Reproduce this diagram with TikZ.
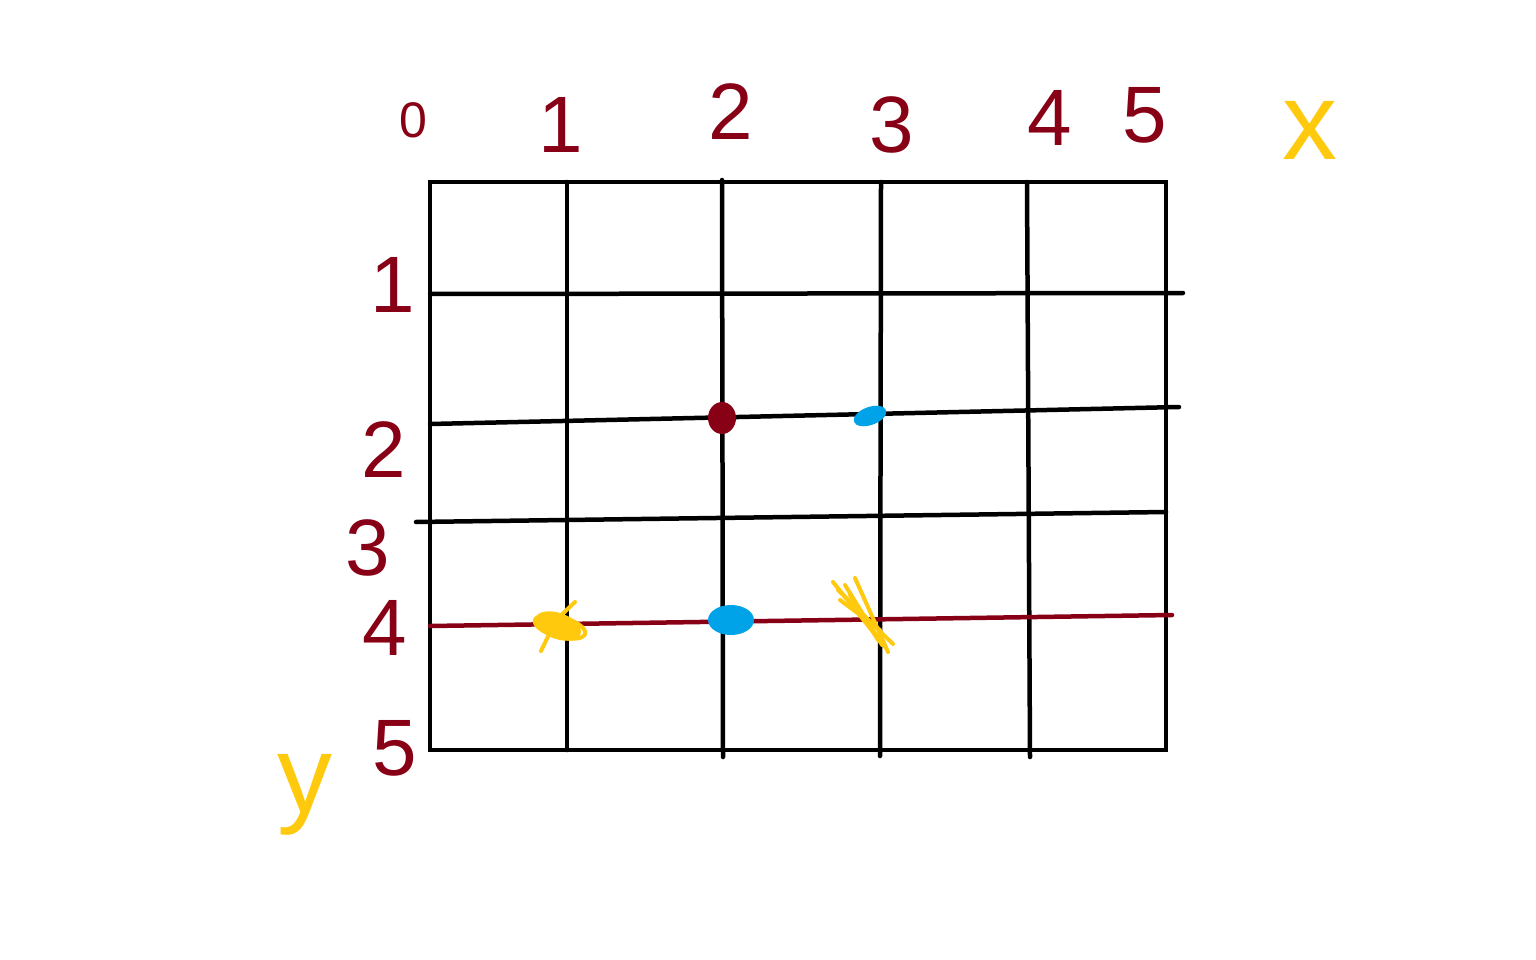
\documentclass[tikz,border=0pt]{standalone}
\usepackage{fontspec}
\setmainfont{Liberation Sans}
\definecolor{dred}{RGB}{136,0,21}
\definecolor{pblue}{RGB}{0,162,232}
\definecolor{pyellow}{RGB}{255,201,14}
\begin{document}
\begin{tikzpicture}[x=1pt,y=-1pt,
  gridline/.style={line width=4.5pt,black,line cap=round},
  redline/.style={line width=4.5pt,dred,line cap=round},
  numlab/.style={text=dred,inner sep=0pt,font=\fontsize{80}{80}\selectfont},
  smalllab/.style={text=dred,inner sep=0pt,font=\fontsize{50}{50}\selectfont},
  axislab/.style={text=pyellow,inner sep=0pt,font=\fontsize{110}{110}\selectfont},
  scribble/.style={pyellow,line width=4pt,line cap=round,line join=round}]
\useasboundingbox (0,0) rectangle (1536,960);
% outer frame
\coordinate (tl) at (430,182);
\coordinate (br) at (1166,750);
\draw[gridline,line cap=butt] (tl) rectangle (br);
% vertical lines
\coordinate (v1t) at (567,182); \coordinate (v1b) at (567,750);
\coordinate (v2t) at (722,180); \coordinate (v2b) at (723,757);
\coordinate (v3t) at (881,182); \coordinate (v3b) at (880,756);
\coordinate (v4t) at (1027,182); \coordinate (v4b) at (1030,757);
\draw[gridline] (v1t) -- (v1b);
\draw[gridline] (v2t) -- (v2b);
\draw[gridline] (v3t) -- (v3b);
\draw[gridline] (v4t) -- (v4b);
% horizontal lines
\coordinate (h1l) at (430,294); \coordinate (h1r) at (1183,293);
\coordinate (h2l) at (430,424); \coordinate (h2r) at (1179,407);
\coordinate (h3l) at (416,522); \coordinate (h3r) at (1166,512);
\coordinate (h4l) at (430,626); \coordinate (h4r) at (1172,615);
\draw[gridline] (h1l) -- (h1r);
\draw[gridline] (h2l) -- (h2r);
\draw[gridline] (h3l) -- (h3r);
\draw[redline] (h4l) -- (h4r);
% top labels
\node[smalllab] (t0) at (413,120) {0};
\node[numlab] (t1) at (561,125) {1};
\node[numlab] (t2) at (731,112) {2};
\node[numlab] (t3) at (892,125) {3};
\node[numlab] (t4) at (1050,118) {4};
\node[numlab] (t5) at (1145,115) {5};
% left labels
\node[numlab] (l1) at (393,285) {1};
\node[numlab] (l2) at (384,450) {2};
\node[numlab] (l3) at (368,548) {3};
\node[numlab] (l4) at (385,628) {4};
\node[numlab] (l5) at (395,748) {5};
% axis letters
\node[axislab] (ax) at (1310,130) {x};
\node[axislab] (ay) at (305,795) {y};
% marks
\fill[dred] (722,418) ellipse [x radius=14pt, y radius=16pt];
\fill[pblue,rotate around={20:(870,416)}] (870,416) ellipse [x radius=17pt, y radius=9pt];
\fill[pblue] (731,620) ellipse [x radius=23pt, y radius=15pt];
\begin{scope}[scribble]
  \fill[pyellow,rotate around={-20:(558,626)}] (558,626) ellipse [x radius=24pt, y radius=13pt];
  \draw[rotate around={-15:(560,627)}] (560,627) ellipse [x radius=26pt, y radius=10pt];
  \draw (541,651) -- (556,620) -- (575,602);
  \draw (833,582) -- (886,648);
  \draw (838,590) -- (893,644);
  \draw (845,585) -- (882,645);
  \draw (855,578) -- (888,652);
  \draw (840,600) -- (880,630);
  \draw (850,595) -- (878,640);
\end{scope}
\end{tikzpicture}
\end{document}
